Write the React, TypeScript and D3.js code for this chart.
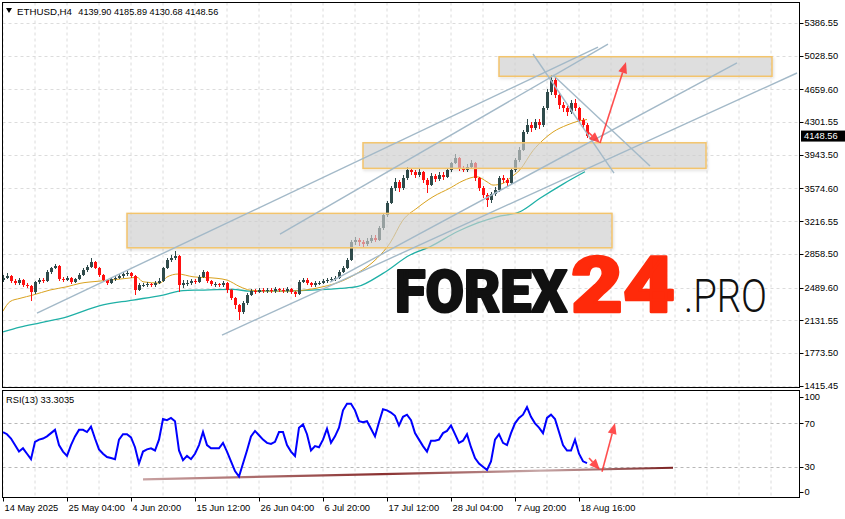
import React from 'react';
import * as d3 from 'd3';

// ---------- DATA ----------
const priceTicks = [5386.55, 5028.5, 4659.6, 4301.55, 3943.5, 3574.6, 3216.55, 2858.5, 2489.6, 2131.55, 1773.5, 1415.45];
const lastPrice = 4148.56;
const timeLabels = ['14 May 2025', '25 May 04:00', '4 Jun 20:00', '15 Jun 12:00', '26 Jun 04:00', '6 Jul 20:00', '17 Jul 12:00', '28 Jul 04:00', '7 Aug 20:00', '18 Aug 16:00'];
const timeLabelBars = [0, 64, 128, 192, 256, 320, 384, 448, 512, 576];
const rsiLevels = [70, 30];
const rsiAxisTicks = ['100', '70', '30', '0'];

// each candle = 4 H4 bars
const barsPerCandle = 4;
const firstOpen = 2570;
const closes = [2594, 2616, 2561, 2539, 2572, 2517, 2506, 2441, 2550, 2572, 2561, 2660, 2703, 2725, 2583, 2572, 2594, 2550, 2583, 2627,
  2681, 2714, 2769, 2703, 2627, 2572, 2539, 2583, 2594, 2616, 2638, 2649, 2616, 2462, 2517, 2517, 2528, 2517, 2539, 2561,
  2703, 2791, 2813, 2835, 2517, 2539, 2539, 2561, 2550, 2605, 2660, 2561, 2528, 2528, 2517, 2539, 2462, 2375, 2298, 2222,
  2320, 2408, 2451, 2441, 2462, 2451, 2462, 2451, 2473, 2462, 2451, 2473, 2441, 2419, 2550, 2572, 2539, 2517, 2539, 2539,
  2561, 2572, 2583, 2594, 2660, 2703, 2791, 2988, 3010, 2988, 2966, 2999, 3032, 3010, 3141, 3284, 3415, 3579, 3645, 3579,
  3689, 3776, 3755, 3722, 3755, 3667, 3612, 3711, 3678, 3722, 3700, 3776, 3853, 3908, 3798, 3776, 3809, 3853, 3689, 3579,
  3503, 3448, 3514, 3558, 3689, 3667, 3634, 3776, 3886, 3996, 4193, 4269, 4236, 4302, 4269, 4455, 4631, 4762, 4598, 4488,
  4455, 4412, 4510, 4455, 4324, 4269, 4149];
const highs = [2625, 2650, 2630, 2580, 2595, 2585, 2540, 2520, 2565, 2600, 2590, 2680, 2720, 2747, 2735, 2605, 2620, 2610, 2600, 2645,
  2700, 2735, 2813, 2780, 2715, 2640, 2585, 2600, 2615, 2635, 2660, 2675, 2665, 2625, 2540, 2545, 2550, 2545, 2560, 2590,
  2720, 2810, 2845, 2890, 2850, 2570, 2570, 2585, 2580, 2625, 2681, 2670, 2575, 2555, 2545, 2560, 2550, 2475, 2390, 2310,
  2340, 2425, 2475, 2470, 2485, 2480, 2490, 2480, 2495, 2490, 2485, 2500, 2490, 2455, 2570, 2595, 2590, 2555, 2560, 2565,
  2580, 2595, 2605, 2620, 2680, 2730, 2810, 3010, 3040, 3030, 3010, 3030, 3060, 3070, 3160, 3310, 3440, 3600, 3690, 3670,
  3720, 3810, 3800, 3780, 3790, 3770, 3690, 3740, 3730, 3750, 3750, 3800, 3870, 3952, 3920, 3820, 3840, 3886, 3860, 3700,
  3600, 3525, 3540, 3590, 3710, 3720, 3690, 3800, 3910, 4030, 4220, 4330, 4300, 4340, 4330, 4480, 4660, 4817, 4780, 4620,
  4520, 4480, 4540, 4550, 4470, 4350, 4290];
const lows = [2550, 2580, 2540, 2515, 2520, 2500, 2480, 2342, 2420, 2530, 2535, 2550, 2640, 2690, 2560, 2550, 2560, 2530, 2535, 2570,
  2615, 2665, 2700, 2690, 2610, 2555, 2520, 2525, 2565, 2580, 2600, 2620, 2600, 2408, 2450, 2495, 2500, 2495, 2500, 2525,
  2550, 2690, 2770, 2790, 2441, 2490, 2510, 2520, 2525, 2535, 2590, 2540, 2505, 2500, 2495, 2500, 2430, 2350, 2250, 2134,
  2200, 2300, 2395, 2420, 2425, 2430, 2435, 2430, 2435, 2440, 2430, 2435, 2420, 2386, 2410, 2535, 2520, 2495, 2500, 2515,
  2525, 2545, 2555, 2565, 2580, 2645, 2690, 2780, 2960, 2950, 2930, 2945, 2980, 2990, 3000, 3120, 3260, 3400, 3550, 3540,
  3560, 3670, 3720, 3690, 3700, 3630, 3525, 3600, 3650, 3660, 3670, 3690, 3760, 3840, 3770, 3750, 3760, 3790, 3660, 3550,
  3470, 3371, 3420, 3490, 3540, 3640, 3600, 3620, 3760, 3870, 3980, 4170, 4190, 4210, 4230, 4250, 4430, 4600, 4560, 4450,
  4410, 4370, 4390, 4420, 4290, 4230, 4130];
const rsiValues = [62, 60, 56, 50, 44, 47, 42, 37, 53, 55, 56, 58, 61, 64, 50, 44, 40, 50, 58, 64,
  64, 62, 67, 56, 46, 42, 39, 38, 37, 55, 60, 60, 57, 48, 33, 44, 46, 47, 45, 55,
  74, 73, 75, 72, 45, 36, 40, 37, 42, 50, 62, 50, 47, 47, 47, 52, 44, 35, 26, 21,
  33, 45, 58, 63, 59, 55, 52, 51, 53, 62, 62, 50, 44, 40, 66, 69, 60, 45, 49, 48,
  55, 65, 52, 58, 66, 82, 88, 88, 82, 72, 71, 72, 65, 58, 71, 83, 82, 80, 77, 68,
  76, 78, 73, 61, 55, 49, 44, 54, 54, 55, 61, 63, 68, 60, 52, 54, 60, 48, 38, 33,
  30, 27, 35, 55, 60, 52, 50, 61, 70, 75, 78, 85, 76, 70, 66, 61, 75, 78, 74, 62,
  50, 45, 45, 55, 42, 35, 33.3];

// moving averages (bar index, price)
const maFastBars = [0, 7, 17, 30, 47, 64, 77, 97, 124, 134, 140, 157, 164, 175, 190, 214, 224, 237, 247, 264, 284, 297, 320, 337, 354, 374, 387, 400, 414, 430, 447, 460, 474, 484, 490, 500, 507, 517, 530, 540, 550, 564, 574, 584];
const maFastVals = [2233, 2336, 2372, 2408, 2463, 2499, 2536, 2561, 2591, 2602, 2553, 2539, 2605, 2638, 2608, 2591, 2572, 2499, 2462, 2451, 2451, 2457, 2499, 2553, 2645, 2810, 2977, 3229, 3360, 3484, 3579, 3659, 3703, 3648, 3612, 3631, 3690, 3780, 3990, 4105, 4193, 4269, 4308, 4330];
const maSlowBars = [0, 17, 37, 64, 97, 130, 160, 180, 197, 230, 247, 264, 297, 337, 354, 380, 407, 427, 454, 474, 494, 517, 537, 560, 582];
const maSlowVals = [2005, 2057, 2104, 2170, 2293, 2353, 2408, 2457, 2462, 2470, 2451, 2451, 2457, 2481, 2499, 2645, 2846, 2937, 3101, 3196, 3265, 3320, 3467, 3623, 3758];

// zones: [barStart, barEnd, priceTop, priceBottom]
const zoneBarStart = [496, 360, 124];
const zoneBarEnd = [769, 703, 609];
const zoneTop = [5017, 4075, 3302];
const zoneBottom = [4803, 3795, 2925];

// trend lines: [bar1, price1, bar2, price2]
const trendLines = [
  [34, 2211, 595, 5123],
  [277, 3076, 605, 5156],
  [219, 1970, 794, 4839],
  [327, 2550, 734, 4951],
  [530, 5047, 611, 3744],
  [550, 4817, 647, 3820],
];
const priceArrows = [
  [584, 4204, 597, 4072],
  [597, 4072, 623, 4959],
];
const rsiArrows = [
  [586, 38, 597, 27],
  [599, 25.4, 612, 70.3],
];
const rsiTrend = [140, 18.4, 670, 29.1];

// ---------- CHART ----------
const FONT = "'Liberation Sans', Arial, sans-serif";
const FS = 9.3;
const LOGO_FONT = "Roboto, 'Open Sans', Lato, sans-serif";

function Arrow({ x1, y1, x2, y2, color }: { x1: number; y1: number; x2: number; y2: number; color: string }) {
  const ang = Math.atan2(y2 - y1, x2 - x1);
  const L = 11, Wd = 4.5;
  const bx = x2 - L * Math.cos(ang), by = y2 - L * Math.sin(ang);
  const pts = [
    [x2, y2],
    [bx + Wd * Math.sin(ang), by - Wd * Math.cos(ang)],
    [bx - Wd * Math.sin(ang), by + Wd * Math.cos(ang)],
  ];
  return (
    <g opacity={0.85}>
      <line x1={x1} y1={y1} x2={bx} y2={by} stroke={color} strokeWidth={1.6} />
      <polygon points={pts.map(p => p.join(',')).join(' ')} fill={color} />
    </g>
  );
}

export default function App() {
  const x = d3.scaleLinear().domain([0, 584]).range([3, 587]);
  const y = d3.scaleLinear().domain([1415.45, 5386.55]).range([385.7, 23]);
  const ry = d3.scaleLinear().domain([0, 100]).range([499.3, 390.8]);

  const mainL = 2.5, mainR = 799.5, mainT = 2.5, mainB = 387.5;
  const rsiT = 390.5, rsiB = 497.5;

  const gridBars = d3.range(0, 769, 32);

  const fastLine = d3.line<number>().x((_, i) => x(maFastBars[i])).y(v => y(v)).curve(d3.curveMonotoneX);
  const slowLine = d3.line<number>().x((_, i) => x(maSlowBars[i])).y(v => y(v)).curve(d3.curveMonotoneX);
  const rsiLine = d3.line<number>().x((_, i) => x(i * barsPerCandle)).y(v => ry(v));

  const rsiLabelY = [396.5, ry(70), ry(30), 491.5];

  return (
    <svg width={845} height={519} style={{ position: 'absolute', left: 0, top: 0, background: '#fff' }} fontFamily={FONT}>
      <defs>
        <clipPath id="mainClip"><rect x={mainL} y={mainT} width={mainR - mainL} height={mainB - mainT} /></clipPath>
        <clipPath id="rsiClip"><rect x={mainL} y={rsiT} width={mainR - mainL} height={rsiB - rsiT} /></clipPath>
        <filter id="shadow" x="-5%" y="-20%" width="110%" height="150%">
          <feDropShadow dx="1" dy="1.5" stdDeviation="1.5" floodColor="#000" floodOpacity="0.15" />
        </filter>
        <linearGradient id="rsiTrendGrad" x1="0" x2="1" y1="0" y2="0">
          <stop offset="0" stopColor="#c8a2a2" />
          <stop offset="0.45" stopColor="#8a3030" />
          <stop offset="0.75" stopColor="#c7a9a9" />
          <stop offset="1" stopColor="#7a2020" />
        </linearGradient>
      </defs>

      <rect x={0} y={0} width={845} height={519} fill="#fff" />

      {/* MAIN PANEL */}
      <g clipPath="url(#mainClip)">
        {gridBars.map(b => (
          <line key={'gv' + b} x1={x(b)} x2={x(b)} y1={mainT} y2={mainB} stroke="#dcdcdc" strokeDasharray="3,3" strokeWidth={1} />
        ))}
        {priceTicks.map(p => (
          <line key={'gh' + p} x1={mainL} x2={mainR} y1={Math.round(y(p)) + 0.5} y2={Math.round(y(p)) + 0.5} stroke="#dcdcdc" strokeDasharray="3,3" strokeWidth={1} />
        ))}

        <path d={slowLine(maSlowVals) || ''} fill="none" stroke="#1fb0a6" strokeWidth={1.3} />
        <path d={fastLine(maFastVals) || ''} fill="none" stroke="#d9a21f" strokeWidth={1} />

        {closes.map((c, i) => {
          const o = i === 0 ? firstOpen : closes[i - 1];
          const bull = c >= o;
          const col = bull ? '#2f4b4b' : '#ff1010';
          const cx = Math.round(x(i * barsPerCandle)) + 0.5;
          const top = y(Math.max(o, c)), bot = y(Math.min(o, c));
          return (
            <g key={'c' + i} shapeRendering="crispEdges">
              <line x1={cx} x2={cx} y1={y(highs[i])} y2={y(lows[i])} stroke={col} strokeWidth={1} />
              <rect x={cx - 1.5} y={top} width={3} height={Math.max(1, bot - top)} fill={col} />
            </g>
          );
        })}

        {zoneTop.map((t, i) => (
          <rect key={'z' + i} x={x(zoneBarStart[i])} y={y(t)} width={x(zoneBarEnd[i]) - x(zoneBarStart[i])} height={y(zoneBottom[i]) - y(t)}
            fill="#d2d2d2" fillOpacity={0.62} stroke="#f3c46c" strokeWidth={1.5} filter="url(#shadow)" />
        ))}

        {trendLines.map((l, i) => (
          <line key={'t' + i} x1={x(l[0])} y1={y(l[1])} x2={x(l[2])} y2={y(l[3])} stroke="#a3b9c8" strokeWidth={1.4} />
        ))}

        {priceArrows.map((a, i) => (
          <Arrow key={'pa' + i} x1={x(a[0])} y1={y(a[1])} x2={x(a[2])} y2={y(a[3])} color="#ff3030" />
        ))}

      </g>

      {/* logo */}
      <text x={395} y={311.7} fontFamily={LOGO_FONT} fontWeight={900} fontSize={59} fill="#111" stroke="#111" strokeWidth={2.2} strokeLinejoin="round" textLength={172} lengthAdjust="spacingAndGlyphs">FOREX</text>
      <text x={571} y={311.7} fontFamily={LOGO_FONT} fontWeight={900} fontSize={78} fill="#ff2a0a" stroke="#ff2a0a" strokeWidth={2.6} strokeLinejoin="round" textLength={104} lengthAdjust="spacingAndGlyphs">24</text>
      <text x={684} y={311.7} fontFamily={LOGO_FONT} fontWeight={300} fontSize={47} fill="#111" textLength={83} lengthAdjust="spacingAndGlyphs">.PRO</text>

      {/* header */}
      <polygon points="6,8 12,8 9,13" fill="#000" />
      <text x={17} y={14.5} fontSize={FS} fill="#000" textLength={55} lengthAdjust="spacingAndGlyphs">ETHUSD,H4</text>
      <text x={78.3} y={14.5} fontSize={FS} fill="#000" textLength={140} lengthAdjust="spacingAndGlyphs">4139.90 4185.89 4130.68 4148.56</text>

      {/* main frame */}
      <rect x={mainL} y={mainT} width={mainR - mainL} height={mainB - mainT} fill="none" stroke="#000" strokeWidth={1} />

      {/* price axis */}
      {priceTicks.map(p => (
        <g key={'pt' + p}>
          <line x1={mainR} x2={mainR + 4} y1={Math.round(y(p)) + 0.5} y2={Math.round(y(p)) + 0.5} stroke="#000" />
          <text x={804.5} y={y(p) + 3.4} fontSize={FS} fill="#000">{p.toFixed(2)}</text>
        </g>
      ))}
      <rect x={801} y={y(lastPrice) - 5.5} width={44} height={11} fill="#000" />
      <text x={804} y={y(lastPrice) + 3.4} fontSize={FS} fill="#fff">{lastPrice.toFixed(2)}</text>

      {/* RSI PANEL */}
      <g clipPath="url(#rsiClip)">
        {gridBars.map(b => (
          <line key={'rgv' + b} x1={x(b)} x2={x(b)} y1={rsiT} y2={rsiB} stroke="#dcdcdc" strokeDasharray="3,3" strokeWidth={1} />
        ))}
        {rsiLevels.map(l => (
          <line key={'rl' + l} x1={mainL} x2={mainR} y1={Math.round(ry(l)) + 0.5} y2={Math.round(ry(l)) + 0.5} stroke="#b8b8b8" strokeDasharray="3,3" strokeWidth={1} />
        ))}
        <line x1={x(rsiTrend[0])} y1={ry(rsiTrend[1])} x2={x(rsiTrend[2])} y2={ry(rsiTrend[3])} stroke="url(#rsiTrendGrad)" strokeWidth={2.2} />
        <path d={rsiLine(rsiValues) || ''} fill="none" stroke="#0000ff" strokeWidth={2} strokeLinejoin="miter" />
        {rsiArrows.map((a, i) => (
          <Arrow key={'ra' + i} x1={x(a[0])} y1={ry(a[1])} x2={x(a[2])} y2={ry(a[3])} color="#ff3030" />
        ))}
      </g>
      <text x={6} y={402.5} fontSize={FS} fill="#000">RSI(13) 33.3035</text>
      <rect x={mainL} y={rsiT} width={mainR - mainL} height={rsiB - rsiT} fill="none" stroke="#000" strokeWidth={1} />
      {rsiAxisTicks.map((t, i) => (
        <g key={'rt' + t}>
          <line x1={mainR} x2={mainR + 4} y1={Math.round(rsiLabelY[i]) + 0.5} y2={Math.round(rsiLabelY[i]) + 0.5} stroke="#000" />
          <text x={804.5} y={rsiLabelY[i] + 3.4} fontSize={FS} fill="#000">{t}</text>
        </g>
      ))}

      {/* time axis */}
      {timeLabels.map((t, i) => (
        <g key={'tl' + i}>
          <line x1={Math.round(x(timeLabelBars[i])) + 0.5} x2={Math.round(x(timeLabelBars[i])) + 0.5} y1={rsiB} y2={rsiB + 4} stroke="#000" />
          <text x={x(timeLabelBars[i]) + 1.5} y={510.5} fontSize={FS} fill="#000">{t}</text>
        </g>
      ))}
    </svg>
  );
}
